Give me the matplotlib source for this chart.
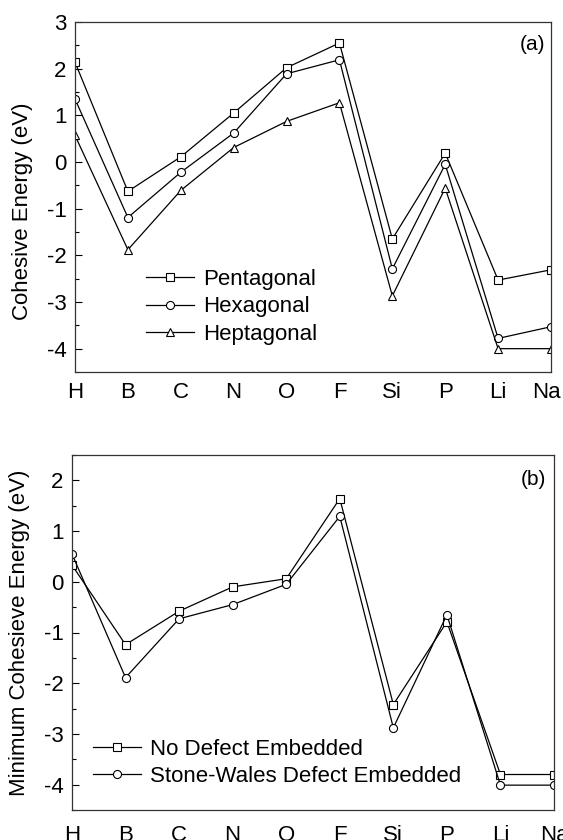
import matplotlib
matplotlib.use("Agg")
import matplotlib.pyplot as plt
from matplotlib.ticker import MultipleLocator
from matplotlib.transforms import ScaledTranslation

plt.rcParams['font.family'] = ['Liberation Sans', 'DejaVu Sans']
plt.rcParams['axes.unicode_minus'] = False

elements = ["H", "B", "C", "N", "O", "F", "Si", "P", "Li", "Na"]

pentagonal = [2.14, -0.63, 0.11, 1.05, 2.02, 2.55, -1.65, 0.19, -2.53, -2.31]
hexagonal = [1.35, -1.19, -0.22, 0.62, 1.89, 2.19, -2.29, -0.05, -3.78, -3.53]
heptagonal = [0.57, -1.88, -0.61, 0.31, 0.87, 1.27, -2.87, -0.56, -4.00, -4.00]

no_defect = [0.33, -1.24, -0.58, -0.10, 0.06, 1.64, -2.42, -0.79, -3.80, -3.80]
stone_wales = [0.55, -1.89, -0.73, -0.45, -0.05, 1.29, -2.88, -0.65, -4.01, -4.01]

FS = 16

fig = plt.figure(figsize=(5.63, 8.4), dpi=100)
axa = fig.add_axes([75/563, 1-372/840, 476/563, 350/840])
axb = fig.add_axes([72/563, 1-810/840, 482/563, 355/840])

x = list(range(len(elements)))
lkw = dict(color='black', lw=0.9, markersize=5.8, markerfacecolor='white',
           markeredgecolor='black', markeredgewidth=0.8)

axa.plot(x, pentagonal, marker='s', label='Pentagonal', **lkw)
axa.plot(x, hexagonal, marker='o', label='Hexagonal', **lkw)
axa.plot(x, heptagonal, marker='^', label='Heptagonal', **lkw)

axb.plot(x, no_defect, marker='s', label='No Defect Embedded', **lkw)
axb.plot(x, stone_wales, marker='o', label='Stone-Wales Defect Embedded', **lkw)

for ax, ylim, ylabel, pad in [
        (axa, (-4.5, 3), 'Cohesive Energy (eV)', 7.5),
        (axb, (-4.5, 2.5), 'Minimum Cohesieve Energy (eV)', 10.5)]:
    ax.set_xlim(0, 9)
    ax.set_ylim(*ylim)
    ax.set_xticks(x)
    ax.set_xticklabels(elements)
    ax.yaxis.set_major_locator(MultipleLocator(1))
    ax.yaxis.set_minor_locator(MultipleLocator(0.5))
    ax.tick_params(axis='x', length=0, pad=pad, labelsize=FS)
    ax.tick_params(axis='y', which='major', direction='in', length=5, width=0.8,
                   pad=6, labelsize=FS)
    ax.tick_params(axis='y', which='minor', direction='in', length=3, width=0.8)
    for s in ax.spines.values():
        s.set_linewidth(0.9)
        s.set_color('#333333')
    ax.set_ylabel(ylabel, fontsize=FS)

# nudge the last label of panel (a) so it stays inside the figure
na = axa.get_xticklabels()[-1]
na.set_transform(na.get_transform() + ScaledTranslation(-5/100, 0, fig.dpi_scale_trans))

axa.yaxis.set_label_coords(-0.088, 0.46)
axb.yaxis.set_label_coords(-0.087, 0.5)

axa.text(0.987, 0.935, '(a)', transform=axa.transAxes, ha='right', va='center', fontsize=15)
axb.text(0.983, 0.93, '(b)', transform=axb.transAxes, ha='right', va='center', fontsize=15)

legkw = dict(frameon=False, fontsize=FS, handlelength=2.16, handletextpad=0.4,
             labelspacing=0.28, borderpad=0, borderaxespad=0, numpoints=1)
axa.legend(loc='center left', bbox_to_anchor=(0.149, 0.186), **legkw)
axb.legend(loc='center left', bbox_to_anchor=(0.044, 0.133), **legkw)

fig.savefig('out.png', dpi=100)
